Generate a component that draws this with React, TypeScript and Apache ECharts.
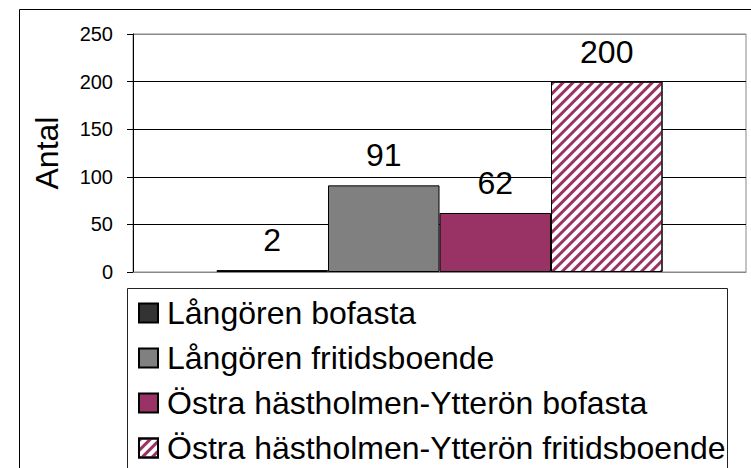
import React, { useEffect, useRef } from "react";
import * as echarts from "echarts";

const categories = [""];
const seriesNames = [
  "Långören bofasta",
  "Långören fritidsboende",
  "Östra hästholmen-Ytterön bofasta",
  "Östra hästholmen-Ytterön fritidsboende",
];
const seriesValues = [2, 91, 62, 200];
const seriesColors = ["#333333", "#808080", "#993366", "#ffffff"];
const yAxisName = "Antal";
const yMin = 0;
const yMax = 250;
const yInterval = 50;

const FONT = "'Liberation Sans', Arial, sans-serif";

export default function App() {
  const ref = useRef<HTMLDivElement>(null);
  useEffect(() => {
    document.body.style.margin = "0";
    if (!ref.current) return;
    const chart = echarts.init(ref.current, null, { renderer: "svg" });
    const series = seriesNames.map((name, i) => {
      const itemStyle: any = {
        color: seriesColors[i],
        borderColor: "#000",
        borderWidth: 1,
      };
      if (i === 3) {
        itemStyle.decal = {
          symbol: "rect",
          symbolSize: 1,
          color: "#993366",
          dashArrayX: [1, 0],
          dashArrayY: [2.6, 3.2],
          rotation: -Math.PI / 4,
        };
      }
      return {
        name,
        type: "bar",
        data: [seriesValues[i]],
        barWidth: 111.5,
        barGap: "0%",
        itemStyle,
        label: {
          show: true,
          position: "top",
          distance: 14,
          fontSize: 32,
          fontFamily: FONT,
          color: "#000",
        },
      };
    });
    chart.setOption({
      animation: false,
      backgroundColor: "#fff",
      textStyle: { fontFamily: FONT },
      grid: {
        left: 133,
        right: 5,
        top: 34,
        bottom: 196,
        show: true,
        borderColor: "#888",
        borderWidth: 1,
      },
      xAxis: {
        type: "category",
        data: categories,
        axisLine: { show: true, lineStyle: { color: "#888" } },
        axisTick: { show: false },
        axisLabel: { show: false },
      },
      yAxis: {
        type: "value",
        min: yMin,
        max: yMax,
        interval: yInterval,
        name: yAxisName,
        nameLocation: "middle",
        nameRotate: 90,
        nameGap: 70,
        nameTextStyle: { fontSize: 32, color: "#000", fontFamily: FONT },
        axisLine: { show: true, lineStyle: { color: "#000" } },
        axisTick: { show: true, length: 6, lineStyle: { color: "#000" } },
        axisLabel: { fontSize: 20, color: "#000", margin: 20, fontFamily: FONT },
        splitLine: {
          show: true,
          lineStyle: { color: ["#888", "#000", "#000", "#000", "#000", "#888"], width: 1 },
        },
      },
      legend: {
        orient: "vertical",
        left: 138,
        top: 295,
        padding: 0,
        itemWidth: 19,
        itemHeight: 19,
        itemGap: 9,
        icon: "rect",
        data: seriesNames,
        textStyle: {
          fontSize: 32,
          lineHeight: 36,
          color: "#000",
          fontFamily: FONT,
          padding: [0, 0, 0, 4],
        },
      },
      graphic: [
        {
          type: "rect",
          shape: { x: 19.5, y: 9.5, width: 800, height: 600 },
          style: { fill: "none", stroke: "#000", lineWidth: 1 },
          silent: true,
        },
        {
          type: "rect",
          shape: { x: 127.5, y: 288.5, width: 600, height: 300 },
          style: { fill: "none", stroke: "#222", lineWidth: 1 },
          silent: true,
        },
      ],
      series,
    });
    return () => chart.dispose();
  }, []);
  return <div ref={ref} style={{ width: 751, height: 468 }} />;
}
